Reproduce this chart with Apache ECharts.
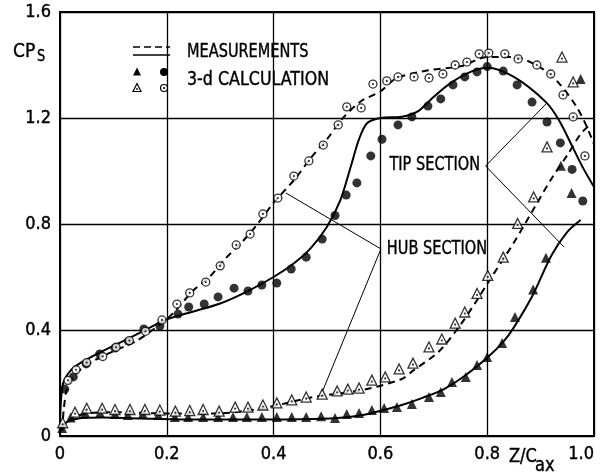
<!DOCTYPE html>
<html>
<head>
<meta charset="utf-8">
<script src="https://cdn.jsdelivr.net/npm/echarts@6/dist/echarts.min.js"></script>
<style>
  html, body { margin: 0; padding: 0; background: #fff; }
  #chart { width: 601px; height: 473px; }
</style>
</head>
<body>
<div id="chart"></div>
<script>
// Static pressure coefficient CPs along the axial chord Z/Cax

// Axis ticks
const xTicks = [0, 0.2, 0.4, 0.6, 0.8, 1.0];
const yTicks = [0, 0.4, 0.8, 1.2, 1.6];

// Measurements, tip section (solid curves)
const tipUpperX = [0, 0.002, 0.006, 0.015, 0.03, 0.06, 0.1, 0.15, 0.2, 0.25, 0.3, 0.35, 0.4, 0.44, 0.47, 0.5, 0.525, 0.545, 0.56, 0.575, 0.6, 0.64, 0.67, 0.7, 0.73, 0.77, 0.8, 0.85, 0.91, 0.935, 0.96, 0.98, 1.0];
const tipUpperY = [0.06, 0.14, 0.2, 0.235, 0.265, 0.3, 0.34, 0.39, 0.44, 0.47, 0.5, 0.545, 0.6, 0.655, 0.71, 0.79, 0.89, 1.02, 1.12, 1.18, 1.2, 1.205, 1.225, 1.28, 1.33, 1.375, 1.39, 1.355, 1.26, 1.19, 1.09, 1.01, 0.94];
const tipLowerX = [0, 0.004, 0.015, 0.04, 0.08, 0.15, 0.25, 0.35, 0.45, 0.52, 0.57, 0.6, 0.64, 0.68, 0.72, 0.76, 0.8, 0.83, 0.85, 0.885, 0.92, 0.95, 0.975];
const tipLowerY = [0.015, 0.035, 0.055, 0.068, 0.07, 0.066, 0.062, 0.062, 0.063, 0.068, 0.08, 0.095, 0.117, 0.145, 0.178, 0.23, 0.295, 0.355, 0.41, 0.53, 0.68, 0.77, 0.815];

// Measurements, hub section (dashed curves)
const hubUpperX = [0.004, 0.007, 0.012, 0.02, 0.035, 0.06, 0.1, 0.14, 0.18, 0.21, 0.25, 0.28, 0.31, 0.34, 0.37, 0.4, 0.44, 0.47, 0.5, 0.53, 0.565, 0.6, 0.63, 0.69, 0.75, 0.8, 0.85, 0.9, 0.935, 0.968, 0.987, 1.0];
const hubUpperY = [0.02, 0.1, 0.17, 0.21, 0.245, 0.28, 0.32, 0.355, 0.41, 0.46, 0.55, 0.6, 0.67, 0.73, 0.8, 0.88, 0.97, 1.05, 1.12, 1.2, 1.265, 1.3, 1.35, 1.38, 1.395, 1.43, 1.43, 1.39, 1.33, 1.24, 1.165, 1.1];
const hubLowerX = [0.004, 0.01, 0.025, 0.05, 0.1, 0.2, 0.29, 0.38, 0.47, 0.57, 0.64, 0.66, 0.71, 0.75, 0.78, 0.805, 0.85, 0.885, 0.92, 0.95, 0.975, 0.99];
const hubLowerY = [0.02, 0.045, 0.07, 0.085, 0.09, 0.085, 0.085, 0.105, 0.145, 0.175, 0.215, 0.245, 0.32, 0.42, 0.51, 0.59, 0.73, 0.85, 0.97, 1.06, 1.14, 1.17];

// 3-d calculation, tip section (filled markers)
const tipCalcCircleX = [0.009, 0.025, 0.049, 0.074, 0.103, 0.128, 0.157, 0.187, 0.221, 0.241, 0.27, 0.296, 0.326, 0.352, 0.378, 0.406, 0.433, 0.461, 0.491, 0.515, 0.536, 0.556, 0.582, 0.603, 0.633, 0.659, 0.689, 0.713, 0.736, 0.758, 0.781, 0.8, 0.83, 0.856, 0.884, 0.912, 0.937, 0.959, 0.979];
const tipCalcCircleY = [0.177, 0.223, 0.272, 0.309, 0.332, 0.358, 0.404, 0.415, 0.46, 0.487, 0.498, 0.525, 0.558, 0.547, 0.57, 0.577, 0.63, 0.675, 0.743, 0.832, 0.909, 0.955, 1.057, 1.12, 1.174, 1.204, 1.245, 1.272, 1.325, 1.355, 1.374, 1.394, 1.377, 1.325, 1.26, 1.185, 1.106, 1.006, 0.887];
const tipCalcTriX = [0.004, 0.02, 0.047, 0.075, 0.103, 0.127, 0.155, 0.184, 0.215, 0.24, 0.268, 0.296, 0.324, 0.35, 0.378, 0.406, 0.434, 0.461, 0.489, 0.515, 0.537, 0.56, 0.584, 0.607, 0.631, 0.659, 0.691, 0.713, 0.734, 0.76, 0.781, 0.8, 0.828, 0.852, 0.886, 0.91, 0.938, 0.958, 0.975];
const tipCalcTriY = [0.03, 0.07, 0.087, 0.087, 0.083, 0.079, 0.083, 0.079, 0.072, 0.072, 0.072, 0.072, 0.072, 0.072, 0.072, 0.072, 0.072, 0.072, 0.075, 0.068, 0.083, 0.087, 0.098, 0.106, 0.109, 0.121, 0.147, 0.166, 0.204, 0.223, 0.268, 0.298, 0.351, 0.449, 0.553, 0.673, 1.02, 0.917, 1.347];

// 3-d calculation, hub section (open markers)
const hubCalcCircleX = [0.015, 0.03, 0.05, 0.08, 0.105, 0.13, 0.16, 0.191, 0.219, 0.243, 0.273, 0.3, 0.33, 0.356, 0.38, 0.408, 0.438, 0.466, 0.493, 0.521, 0.537, 0.564, 0.586, 0.612, 0.633, 0.663, 0.691, 0.717, 0.74, 0.762, 0.785, 0.803, 0.833, 0.858, 0.893, 0.919, 0.942, 0.961, 0.983];
const hubCalcCircleY = [0.21, 0.25, 0.277, 0.3, 0.335, 0.36, 0.395, 0.438, 0.498, 0.54, 0.581, 0.642, 0.721, 0.762, 0.838, 0.898, 0.981, 1.038, 1.098, 1.174, 1.242, 1.238, 1.328, 1.34, 1.355, 1.355, 1.351, 1.366, 1.4, 1.411, 1.442, 1.445, 1.442, 1.423, 1.4, 1.366, 1.287, 1.204, 1.057];
const hubCalcTriX = [0.005, 0.028, 0.05, 0.079, 0.103, 0.131, 0.159, 0.187, 0.216, 0.243, 0.268, 0.298, 0.328, 0.352, 0.38, 0.406, 0.434, 0.461, 0.491, 0.519, 0.539, 0.56, 0.584, 0.609, 0.635, 0.661, 0.691, 0.715, 0.74, 0.758, 0.781, 0.801, 0.83, 0.857, 0.887, 0.912, 0.94, 0.961];
const hubCalcTriY = [0.05, 0.09, 0.105, 0.105, 0.1, 0.1, 0.1, 0.098, 0.094, 0.096, 0.1, 0.094, 0.109, 0.109, 0.117, 0.125, 0.136, 0.147, 0.158, 0.17, 0.177, 0.181, 0.211, 0.223, 0.253, 0.275, 0.336, 0.366, 0.426, 0.468, 0.538, 0.606, 0.675, 0.802, 0.902, 1.091, 1.43, 1.336];

// Leader lines for the section labels (upper end, bracket tip, lower end)
const tipLeaderX = [0.912, 0.797, 0.944];
const tipLeaderY = [1.257, 1.019, 0.713];
const hubLeaderX = [0.423, 0.601, 0.491];
const hubLeaderY = [0.917, 0.706, 0.166];

const zip = (xs, ys) => xs.map((x, i) => [x, ys[i]]);
const FONT = '"DejaVu Sans Condensed", "DejaVu Sans", sans-serif';

const chart = echarts.init(document.getElementById('chart'), null, { renderer: 'canvas' });

const fmt = v => (Math.abs(v) < 1e-9 ? '0' : v.toFixed(1));

function curve(name, xs, ys, dashed) {
  return {
    name, type: 'line', data: zip(xs, ys), symbol: 'none', smooth: 0.3,
    lineStyle: { color: '#000', width: 2, type: dashed ? [7, 5] : 'solid' },
    z: 3, silent: true
  };
}
function markers(name, xs, ys, symbol, size, open) {
  return {
    name, type: 'scatter', data: zip(xs, ys), symbol, symbolSize: size,
    itemStyle: open ? { color: '#fff', borderColor: '#000', borderWidth: 1.3 } : { color: '#000' },
    z: 5, silent: true
  };
}
function centreDots(xs, ys, offsetY) {
  return {
    type: 'scatter', data: zip(xs, ys), symbol: 'circle', symbolSize: 2.2,
    symbolOffset: [0, offsetY], itemStyle: { color: '#000' }, z: 6, silent: true
  };
}
function leader(xs, ys) {
  return {
    type: 'line', data: zip(xs, ys), symbol: 'none', smooth: false,
    lineStyle: { color: '#000', width: 1 }, z: 2, silent: true
  };
}

// Condensed lettering: tall glyphs squeezed horizontally around the anchor
function txt(x, y, text, size, sx, align) {
  return {
    type: 'text', x, y, z: 10, scaleX: sx,
    style: {
      text, font: size + 'px ' + FONT, fill: '#000', stroke: '#000', lineWidth: 0.4,
      align: align || 'left', verticalAlign: 'middle'
    }
  };
}

chart.setOption({
  animation: false,
  backgroundColor: '#fff',
  grid: { left: 60, right: 7, top: 12, bottom: 37, show: true, borderColor: '#000', borderWidth: 2 },
  xAxis: {
    type: 'value', min: xTicks[0], max: xTicks[xTicks.length - 1], interval: 0.2,
    axisLine: { show: true, lineStyle: { color: '#000', width: 2 } },
    axisTick: { show: false },
    splitLine: { show: true, lineStyle: { color: '#000', width: 1.3 } },
    axisLabel: {
      formatter: fmt, color: '#000', fontSize: 18, fontFamily: FONT, margin: 9, alignMaxLabel: 'right',
      textBorderColor: '#000', textBorderWidth: 0.4
    }
  },
  yAxis: {
    type: 'value', min: yTicks[0], max: yTicks[yTicks.length - 1], interval: 0.4,
    axisLine: { show: true, lineStyle: { color: '#000', width: 2 } },
    axisTick: { show: false },
    splitLine: { show: true, lineStyle: { color: '#000', width: 1.3 } },
    axisLabel: {
      formatter: fmt, color: '#000', fontSize: 18, fontFamily: FONT, margin: 9,
      textBorderColor: '#000', textBorderWidth: 0.4
    }
  },
  series: [
    leader(tipLeaderX, tipLeaderY),
    leader(hubLeaderX, hubLeaderY),
    curve('tip upper', tipUpperX, tipUpperY, false),
    curve('tip lower', tipLowerX, tipLowerY, false),
    curve('hub upper', hubUpperX, hubUpperY, true),
    curve('hub lower', hubLowerX, hubLowerY, true),
    markers('tip calc circles', tipCalcCircleX, tipCalcCircleY, 'circle', 9, false),
    markers('tip calc triangles', tipCalcTriX, tipCalcTriY, 'triangle', 10, false),
    markers('hub calc circles', hubCalcCircleX, hubCalcCircleY, 'circle', 8, true),
    markers('hub calc triangles', hubCalcTriX, hubCalcTriY, 'triangle', 10, true),
    centreDots(hubCalcCircleX, hubCalcCircleY, 0),
    centreDots(hubCalcTriX, hubCalcTriY, 1.5)
  ],
  graphic: [
    // axis titles
    txt(13, 52, 'CP', 20, 0.95),
    txt(37, 57, 'S', 16, 0.9),
    txt(509, 457, 'Z/C', 19, 0.95),
    txt(535, 466, 'ax', 19, 0.95),
    // legend
    { type: 'line', shape: { x1: 133, y1: 47, x2: 170, y2: 47 }, style: { stroke: '#000', lineWidth: 1.6, lineDash: [7, 4] }, z: 10 },
    { type: 'line', shape: { x1: 133, y1: 55, x2: 170, y2: 55 }, style: { stroke: '#000', lineWidth: 1.6 }, z: 10 },
    txt(187, 52, 'MEASUREMENTS', 19, 0.85),
    txt(187, 80, '3-d CALCULATION', 19, 0.93),
    { type: 'polygon', shape: { points: [[137, 67.5], [133, 75.5], [141, 75.5]] }, style: { fill: '#000' }, z: 10 },
    { type: 'circle', shape: { cx: 164, cy: 72, r: 4 }, style: { fill: '#000' }, z: 10 },
    { type: 'polygon', shape: { points: [[137, 83.5], [133, 91.5], [141, 91.5]] }, style: { fill: '#fff', stroke: '#000', lineWidth: 1.2 }, z: 10 },
    { type: 'circle', shape: { cx: 164, cy: 88, r: 3.5 }, style: { fill: '#fff', stroke: '#000', lineWidth: 1.2 }, z: 10 },
    { type: 'circle', shape: { cx: 164, cy: 88, r: 1 }, style: { fill: '#000' }, z: 11 },
    { type: 'circle', shape: { cx: 137, cy: 89, r: 0.9 }, style: { fill: '#000' }, z: 11 },
    // section labels
    txt(480, 165, 'TIP SECTION', 19, 0.85, 'right'),
    txt(487, 249, 'HUB SECTION', 19, 0.85, 'right')
  ]
});
</script>
</body>
</html>
